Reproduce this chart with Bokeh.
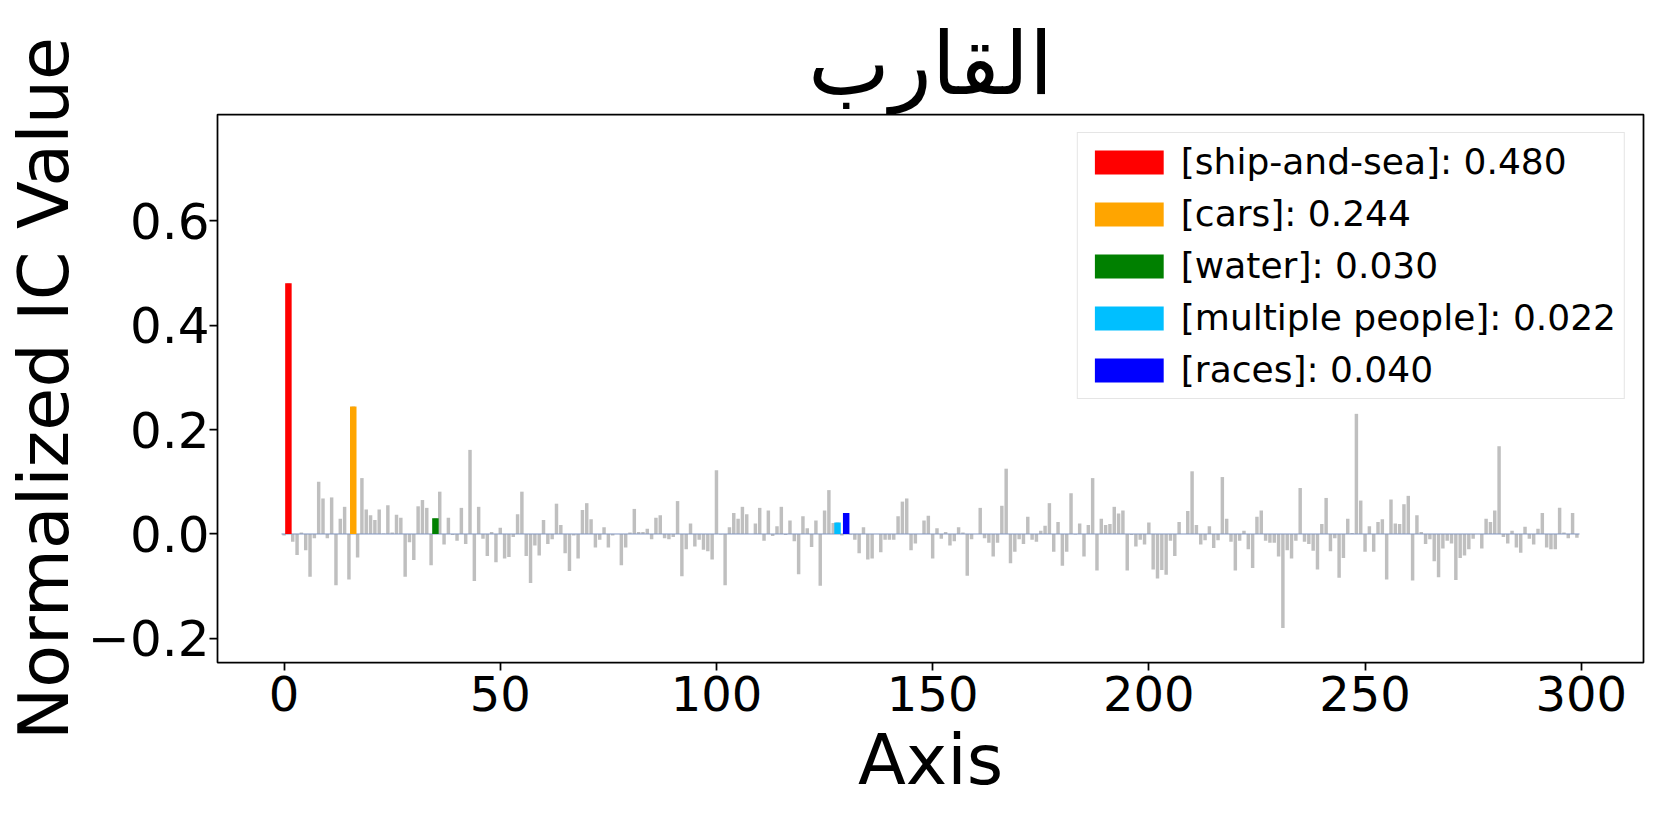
from bokeh.plotting import figure
from bokeh.models import (ColumnDataSource, FixedTicker, CustomJSTickFormatter,
                          Legend, LegendItem, Range1d)
from bokeh.embed import file_html
from bokeh.resources import INLINE

# ---------------- data ----------------
ic_values = [
    -0.003, 0.480, -0.015, -0.040, 0.003, -0.031, -0.082, -0.008, 0.100, 0.068,
    -0.008, 0.070, -0.098, 0.029, 0.052, -0.087, 0.244, -0.045, 0.107, 0.047,
    0.036, 0.027, 0.047, 0.001, 0.055, 0.003, 0.037, 0.031, -0.082, -0.016,
    -0.050, 0.053, 0.065, 0.050, -0.060, 0.030, 0.081, -0.020, 0.031, -0.002,
    -0.013, 0.050, -0.019, 0.161, -0.090, 0.052, -0.009, -0.042, 0.004, -0.054,
    0.012, -0.047, -0.044, -0.006, 0.038, 0.081, -0.042, -0.094, -0.022, -0.041,
    0.027, -0.019, -0.010, 0.058, 0.017, -0.037, -0.071, -0.003, -0.047, 0.046,
    0.059, 0.028, -0.026, -0.011, 0.013, -0.026, -0.003, 0.000, -0.060, -0.026,
    0.003, 0.048, 0.004, 0.004, 0.010, -0.010, 0.031, 0.036, -0.008, -0.010,
    -0.006, 0.063, -0.081, -0.029, 0.020, -0.024, -0.011, -0.030, -0.033, -0.049,
    0.122, -0.001, -0.098, 0.013, 0.040, 0.029, 0.052, 0.038, 0.000, 0.020,
    0.050, -0.013, 0.045, -0.004, 0.015, 0.052, -0.002, 0.026, -0.014, -0.077,
    0.034, 0.011, -0.025, 0.026, -0.099, 0.045, 0.084, 0.021, 0.022, -0.003,
    0.040, -0.001, -0.011, -0.037, 0.013, -0.049, -0.047, 0.000, -0.035, -0.011,
    -0.011, -0.011, 0.034, 0.062, 0.068, -0.031, -0.018, 0.000, 0.026, 0.035,
    -0.047, 0.011, -0.009, 0.004, -0.022, -0.014, 0.013, 0.003, -0.080, -0.010,
    0.000, 0.050, -0.008, -0.017, -0.043, -0.017, 0.054, 0.125, -0.056, -0.034,
    -0.010, -0.019, 0.033, -0.011, -0.015, 0.006, 0.016, 0.059, -0.034, 0.023,
    -0.061, -0.034, 0.078, -0.001, 0.020, -0.043, 0.017, 0.107, -0.070, 0.029,
    0.017, 0.019, 0.052, 0.039, 0.045, -0.070, -0.002, -0.024, -0.011, -0.020,
    0.022, -0.068, -0.085, -0.069, -0.078, -0.013, -0.042, 0.023, 0.000, 0.044,
    0.120, 0.017, -0.020, -0.012, 0.015, -0.027, -0.012, 0.109, 0.029, -0.015,
    -0.070, -0.013, 0.006, -0.029, -0.065, 0.033, 0.045, -0.013, -0.017, -0.017,
    -0.043, -0.180, -0.031, -0.047, -0.013, 0.088, -0.015, -0.019, -0.032, -0.068,
    0.019, 0.069, -0.033, -0.008, -0.084, -0.046, 0.029, 0.002, 0.230, 0.064,
    -0.034, 0.015, -0.034, 0.023, 0.028, -0.087, 0.066, 0.020, 0.019, 0.057,
    0.073, -0.089, 0.036, 0.004, -0.019, -0.010, -0.052, -0.083, -0.028, -0.013,
    -0.018, -0.088, -0.046, -0.041, -0.029, -0.009, 0.000, -0.028, 0.029, 0.023,
    0.045, 0.168, -0.006, -0.018, 0.006, -0.026, -0.036, 0.014, -0.009, -0.020,
    0.010, 0.040, -0.026, -0.029, -0.029, 0.050, 0.003, -0.008, 0.040, -0.007,
]
axis_index = list(range(len(ic_values)))

hl_index = [1, 16, 35, 128, 130]
hl_names = ["ship-and-sea", "cars", "water", "multiple people", "races"]
hl_values = [0.480, 0.244, 0.030, 0.022, 0.040]
hl_colors = ["#ff0000", "#ffa500", "#008000", "#00bfff", "#0000ff"]

x_ticks = [0, 50, 100, 150, 200, 250, 300]
y_ticks = [-0.2, 0.0, 0.2, 0.4, 0.6]

title_text = "القارب"
x_label = "Axis"
y_label = "Normalized IC Value"

FONT = "DejaVu Sans"

# ---------------- figure ----------------
p = figure(width=1661, height=830, output_backend="svg", toolbar_location=None,
           x_range=Range1d(-15.4, 314.4), y_range=Range1d(-0.246, 0.803),
           min_border_left=217, min_border_right=18,
           min_border_top=114, min_border_bottom=168)

p.background_fill_color = "white"
p.border_fill_color = "white"
p.outline_line_color = "black"
p.outline_line_width = 1.75
p.xgrid.visible = False
p.ygrid.visible = False

p.title.text = title_text
p.title.align = "center"
p.title.text_font = FONT
p.title.text_font_size = "87px"
p.title.text_font_style = "normal"
p.title.text_color = "black"
p.title.standoff = 0

# gray bars
src = ColumnDataSource(dict(x=axis_index, top=ic_values))
p.vbar(x="x", top="top", bottom=0, width=0.8, source=src,
       fill_color="#bfbfbf", line_color=None)

# zero line
p.segment(x0=[axis_index[0] - 0.6], y0=[0], x1=[axis_index[-1] + 0.6], y1=[0],
          line_color="#7f95c0", line_width=1)

# highlighted bars
items = []
for i, name, v, c in zip(hl_index, hl_names, hl_values, hl_colors):
    s = ColumnDataSource(dict(x=[i], top=[v]))
    r = p.vbar(x="x", top="top", bottom=0, width=1.5, source=s,
               fill_color=c, line_color=None)
    items.append(LegendItem(label=f"[{name}]: {v:.3f}", renderers=[r]))

legend = Legend(items=items, location="top_right")
legend.label_text_font = FONT
legend.label_text_font_size = "36px"
legend.label_text_color = "black"
legend.glyph_width = 86
legend.glyph_height = 30
legend.label_standoff = 9
legend.label_width = 433
legend.spacing = 11
legend.padding = 8
legend.margin = 18
legend.border_line_color = "#cccccc"
legend.border_line_width = 1.5
legend.background_fill_alpha = 0.8
p.add_layout(legend)

# axes
for ax in (p.xaxis, p.yaxis):
    ax.axis_line_color = None
    ax.major_tick_line_color = "black"
    ax.major_tick_line_width = 1.75
    ax.major_tick_out = 8
    ax.major_tick_in = 0
    ax.minor_tick_line_color = None
    ax.major_label_text_font = FONT
    ax.major_label_text_color = "black"
    ax.axis_label_text_font = FONT
    ax.axis_label_text_font_size = "70px"
    ax.axis_label_text_font_style = "normal"
    ax.axis_label_text_color = "black"

p.xaxis.major_label_text_font_size = "48px"
p.yaxis.major_label_text_font_size = "50px"
p.xaxis.ticker = FixedTicker(ticks=x_ticks)
p.yaxis.ticker = FixedTicker(ticks=y_ticks)
p.yaxis.formatter = CustomJSTickFormatter(code="""
    const s = Math.abs(tick).toFixed(1);
    return (tick < -1e-9 ? "\\u2212" : "") + s;
""")
p.xaxis.axis_label = x_label
p.yaxis.axis_label = y_label
p.xaxis.major_label_standoff = 5
p.yaxis.major_label_standoff = 0
p.xaxis.axis_label_standoff = 5
p.yaxis.axis_label_standoff = 0

open("out.html", "w").write(file_html(p, INLINE))
